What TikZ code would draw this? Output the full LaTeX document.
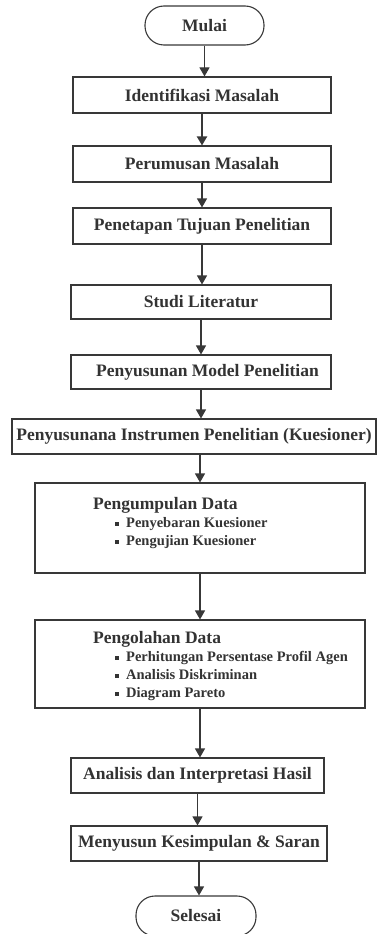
\documentclass[tikz,border=0pt]{standalone}
\usepackage{fontspec}
\setmainfont{Liberation Serif}
\usetikzlibrary{arrows.meta}

\newcommand{\itembul}{\rule[1.5pt]{4pt}{4pt}}

\tikzset{
  line/.style={draw=black!78, line width=1.1pt, -{Triangle[width=10pt,length=9pt]}},
  proses/.style={draw=black!78, line width=1.1pt, text=black!80,
    font=\fontsize{17.5}{21}\selectfont\bfseries, minimum height=36pt},
  terminal/.style={proses, rounded corners=19pt, minimum height=39pt},
  isi/.style={text=black!80, align=left, anchor=north west, inner sep=0pt,
    font=\fontsize{14.5}{18}\selectfont\bfseries}
}

\begin{document}
\begin{tikzpicture}[x=1pt, y=-1pt]
    \useasboundingbox (0,0) rectangle (377,934);

    % Nodes
    \node [terminal, minimum width=119pt] (mulai) at (204.5,25.5) {Mulai};
    \node [proses, minimum width=258pt] (identifikasi) at (202,95) {Identifikasi Masalah};
    \node [proses, minimum width=258pt] (rumusan) at (202,164) {Perumusan Masalah};
    \node [proses, minimum width=258pt] (tujuan) at (202,226) {Penetapan Tujuan Penelitian};
    \node [proses, minimum width=260pt, minimum height=34pt] (studi) at (201,302) {Studi Literatur};
    \node [proses, minimum width=260pt, minimum height=34pt] (model) at (201,372) {\hspace{13pt}Penyusunan Model Penelitian};
    \node [proses, minimum width=364pt, minimum height=35pt] (instrumen) at (194,436.5) {Penyusunana Instrumen Penelitian (Kuesioner)};
    \node [proses, minimum width=330pt, minimum height=90pt] (kumpul) at (200,528) {};
    \node [isi] (kumpulisi) at (93,497) {{\fontsize{17.5}{18}\selectfont Pengumpulan Data}\\
      \hspace*{22pt}\itembul\hspace{7pt}Penyebaran Kuesioner\\
      \hspace*{22pt}\itembul\hspace{7pt}Pengujian Kuesioner};
    \node [proses, minimum width=330pt, minimum height=88pt] (olah) at (200,664) {};
    \node [isi] (olahisi) at (93,631) {{\fontsize{17.5}{18}\selectfont Pengolahan Data}\\
      \hspace*{22pt}\itembul\hspace{7pt}Perhitungan Persentase Profil Agen\\
      \hspace*{22pt}\itembul\hspace{7pt}Analisis Diskriminan\\
      \hspace*{22pt}\itembul\hspace{7pt}Diagram Pareto};
    \node [proses, minimum width=253pt, minimum height=35pt] (analisis) at (197.5,775.5) {Analisis dan Interpretasi Hasil};
    \node [proses, minimum width=256pt, minimum height=35pt] (simpul) at (199,843.5) {Menyusun Kesimpulan \& Saran};
    \node [terminal, minimum width=120pt, minimum height=40pt] (selesai) at (196,916) {Selesai};

    % Connections
    \draw [line] (mulai.south) -- (mulai.south |- identifikasi.north);
    \draw [line, line width=2pt] (identifikasi.south) -- (identifikasi.south |- rumusan.north);
    \draw [line] (rumusan.south) -- (rumusan.south |- tujuan.north);
    \draw [line] (tujuan.south) -- (tujuan.south |- studi.north);
    \draw [line] (studi.south) -- (studi.south |- model.north);
    \draw [line] (model.south) -- (model.south |- instrumen.north);
    \draw [line] (kumpul.north |- instrumen.south) -- (kumpul.north);
    \draw [line] (kumpul.south) -- (olah.north);
    \draw [line] (olah.south) -- (olah.south |- analisis.north);
    \draw [line] (analisis.south) -- (analisis.south |- simpul.north);
    \draw [line] (simpul.south) -- (simpul.south |- selesai.north);
\end{tikzpicture}
\end{document}
